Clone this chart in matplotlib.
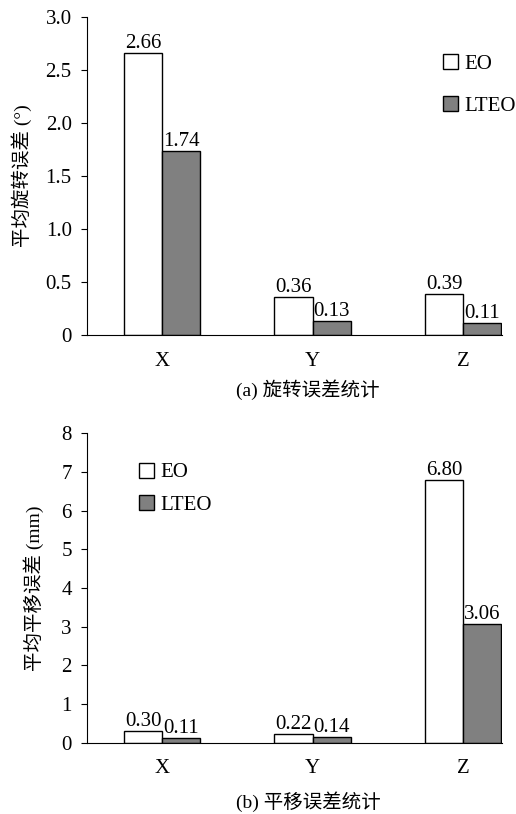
import matplotlib
matplotlib.use("Agg")
import matplotlib.pyplot as plt
import numpy as np

plt.rcParams['font.family'] = ['Liberation Serif', 'Noto Sans CJK SC']
plt.rcParams['font.size'] = 15

axes_names = ["X", "Y", "Z"]
rot_eo = [2.66, 0.36, 0.39]
rot_lteo = [1.74, 0.13, 0.11]
trans_eo = [0.30, 0.22, 6.80]
trans_lteo = [0.11, 0.14, 3.06]

fig = plt.figure(figsize=(5.16, 8.14), dpi=100)
ax1 = fig.add_axes([0.1686, 0.5885, 0.804, 0.3907])
ax2 = fig.add_axes([0.1686, 0.0876, 0.804, 0.3801])

w = 0.254
x = np.arange(len(axes_names))


def draw(ax, eo, lteo, ymax, yticks, ylabels, ylab, ylab_x, legend_pos, spacing):
    b1 = ax.bar(x, eo, width=-w, align='edge', color='white', edgecolor='black', linewidth=1, label='EO')
    b2 = ax.bar(x, lteo, width=w, align='edge', color='#808080', edgecolor='black', linewidth=1, label='LTEO')
    ax.bar_label(b1, labels=["%.2f" % v for v in eo], padding=0, fontsize=15)
    ax.bar_label(b2, labels=["%.2f" % v for v in lteo], padding=0, fontsize=15)
    ax.set_xlim(-0.5, 2 + w + 0.003)
    ax.set_ylim(0, ymax)
    ax.set_yticks(yticks)
    ax.set_yticklabels(ylabels)
    ax.set_xticks(x)
    ax.set_xticklabels(axes_names)
    ax.tick_params(axis='x', length=0, pad=12)
    ax.tick_params(axis='y', length=4, direction='out', pad=7)
    ax.spines['top'].set_visible(False)
    ax.spines['right'].set_visible(False)
    ax.set_ylabel(ylab, fontsize=14)
    ax.yaxis.set_label_coords(ylab_x, 0.5)
    ax.legend(loc='upper left', bbox_to_anchor=legend_pos, frameon=False,
              handlelength=0.72, handleheight=0.72, handletextpad=0.3,
              labelspacing=spacing, fontsize=15, borderaxespad=0, borderpad=0)


draw(ax1, rot_eo, rot_lteo, 3.0, [0, 0.5, 1.0, 1.5, 2.0, 2.5, 3.0],
     ["0", "0.5", "1.0", "1.5", "2.0", "2.5", "3.0"], "平均旋转误差 (°)", -0.133,
     (0.858, 0.882), 1.05)
draw(ax2, trans_eo, trans_lteo, 8, list(range(9)),
     [str(i) for i in range(9)], "平均平移误差 (mm)", -0.103,
     (0.125, 0.905), 0.62)

fig.text(0.597, 1 - 390 / 814, "(a) 旋转误差统计", ha='center', va='center', fontsize=14)
fig.text(0.597, 1 - 802 / 814, "(b) 平移误差统计", ha='center', va='center', fontsize=14)

fig.savefig("out.png", dpi=100)
